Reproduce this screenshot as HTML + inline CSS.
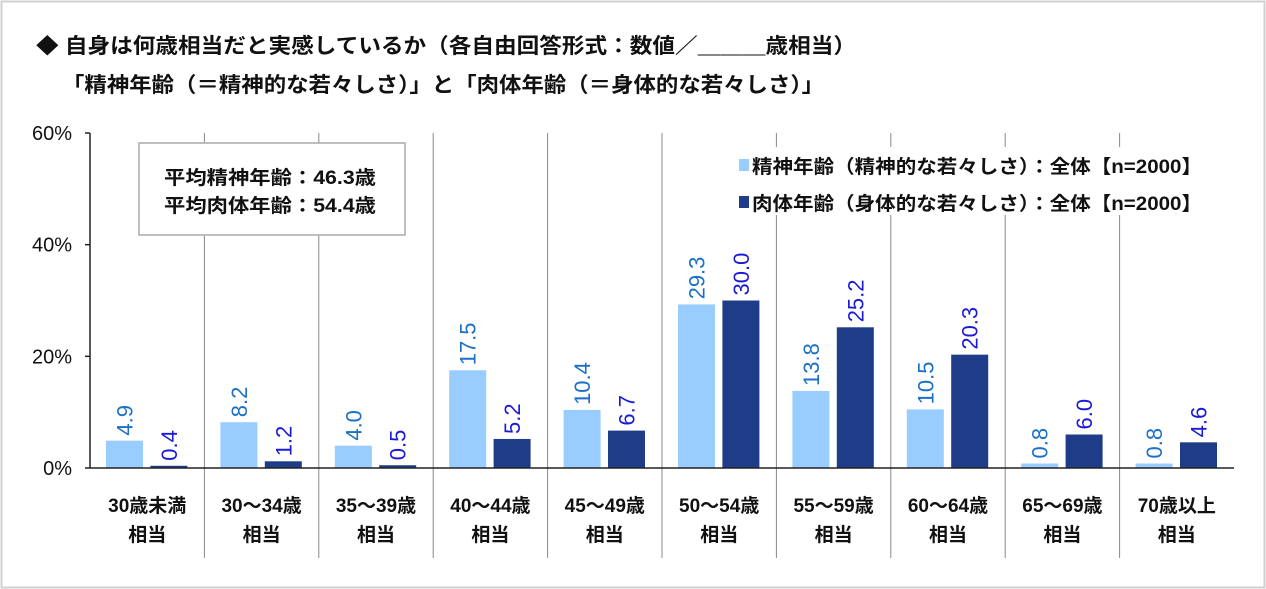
<!DOCTYPE html>
<html><head><meta charset="utf-8"><style>
html,body{margin:0;padding:0;background:#fff}
svg{display:block;font-family:"Liberation Sans","Noto Sans CJK JP",sans-serif}
</style></head><body>
<svg id="chart" width="1266" height="589" viewBox="0 0 1266 589">
<rect x="1.5" y="1.5" width="1263" height="586" fill="#fff" stroke="#d0d0d0" stroke-width="2"/>
<text x="36" y="53" font-size="21" font-weight="bold" fill="#111" textLength="820" lengthAdjust="spacingAndGlyphs">◆ 自身は何歳相当だと実感しているか（各自由回答形式：数値／＿＿＿歳相当）</text>
<text x="62" y="92" font-size="21" font-weight="bold" fill="#111" textLength="762" lengthAdjust="spacingAndGlyphs">「精神年齢（＝精神的な若々しさ）」と「肉体年齢（＝身体的な若々しさ）」</text>
<g id="grid"></g>
<g id="bars"></g>
<g id="labels"></g>
<g id="axes"></g>
<rect x="139" y="143" width="266" height="92" fill="#fff" stroke="#aaa" stroke-width="1.5"/>
<text x="164" y="184" font-size="19" font-weight="bold" fill="#111" textLength="212" lengthAdjust="spacingAndGlyphs">平均精神年齢：46.3歳</text>
<text x="164" y="212" font-size="19" font-weight="bold" fill="#111" textLength="212" lengthAdjust="spacingAndGlyphs">平均肉体年齢：54.4歳</text>
<g>
<rect x="735" y="147" width="480" height="68" fill="#fff"/>
<rect x="739" y="159" width="10" height="12" fill="#99ccff"/>
<text x="752" y="173" font-size="19" font-weight="bold" fill="#111" textLength="450" lengthAdjust="spacingAndGlyphs">精神年齢（精神的な若々しさ）：全体【n=2000】</text>
<rect x="739" y="196" width="10" height="12" fill="#1f3c88"/>
<text x="752" y="210" font-size="19" font-weight="bold" fill="#111" textLength="450" lengthAdjust="spacingAndGlyphs">肉体年齢（身体的な若々しさ）：全体【n=2000】</text>
</g>
</svg>
<script>
const categories1 = ["30歳未満","30～34歳","35～39歳","40～44歳","45～49歳","50～54歳","55～59歳","60～64歳","65～69歳","70歳以上"];
const categories2 = ["相当","相当","相当","相当","相当","相当","相当","相当","相当","相当"];
const mentalValues = [4.9,8.2,4.0,17.5,10.4,29.3,13.8,10.5,0.8,0.8];
const physicalValues = [0.4,1.2,0.5,5.2,6.7,30.0,25.2,20.3,6.0,4.6];
const yTicks = [0,20,40,60];
const yTickLabels = ["0%","20%","40%","60%"];

const NS="http://www.w3.org/2000/svg";
const X0=90,X1=1234,Y0=468,Y1=133,YMAX=60;
const bw=(X1-X0)/categories1.length;
const y=v=>Y0-(v/YMAX)*(Y0-Y1);
const xc=i=>X0+i*bw;
function mk(tag,attrs,parent,text){const e=document.createElementNS(NS,tag);for(const k in attrs)e.setAttribute(k,attrs[k]);if(text!=null)e.textContent=text;document.getElementById(parent).appendChild(e);return e;}

for(let i=1;i<categories1.length;i++){
  const l=mk("line",{x1:xc(i),x2:xc(i),y1:Y1,y2:558,stroke:"#888","stroke-width":1},"grid");
  
  
}
const ya=mk("line",{x1:X0,x2:X0,y1:Y1,y2:Y0,stroke:"#222","stroke-width":1.5},"axes");


const xa=mk("line",{x1:X0,x2:X1,y1:Y0,y2:Y0,stroke:"#222","stroke-width":1.5},"axes");


yTicks.forEach((t,k)=>{
  mk("line",{x1:X0-5,x2:X0,y1:y(t),y2:y(t),stroke:"#222","stroke-width":1.5},"axes");
  const tx=mk("text",{x:X0-18,y:y(t)+7,"font-size":20,"text-anchor":"end",fill:"#111"},"axes",yTickLabels[k]);
  
  
});
const BW=37;
categories1.forEach((c,i)=>{
  const x=xc(i);
  const a=mk("rect",{x:x+16,y:y(mentalValues[i]),width:BW,height:Y0-y(mentalValues[i]),fill:"#99ccff"},"bars");
  
  
  const b=mk("rect",{x:x+bw-17-BW,y:y(physicalValues[i]),width:BW,height:Y0-y(physicalValues[i]),fill:"#1f3c88"},"bars");
  
  
  [[mentalValues[i],x+16+BW/2,"#1a70c8"],[physicalValues[i],x+bw-17-BW/2,"#1a1ad8"]].forEach(([v,cx,col])=>{
    const yy=y(v)-5;
    const t=mk("text",{x:0,y:0,"font-size":22,fill:col,transform:`translate(${cx+8},${yy}) rotate(-90)`},"labels",v.toFixed(1));
    
    
  });
  const l1=mk("text",{x:x+bw/2,y:512,"font-size":19,"font-weight":"bold","text-anchor":"middle",fill:"#111"},"labels",c);
  
  
  const l2=mk("text",{x:x+bw/2,y:541,"font-size":19,"font-weight":"bold","text-anchor":"middle",fill:"#111"},"labels",categories2[i]);
  
  
});
</script>
</body></html>
